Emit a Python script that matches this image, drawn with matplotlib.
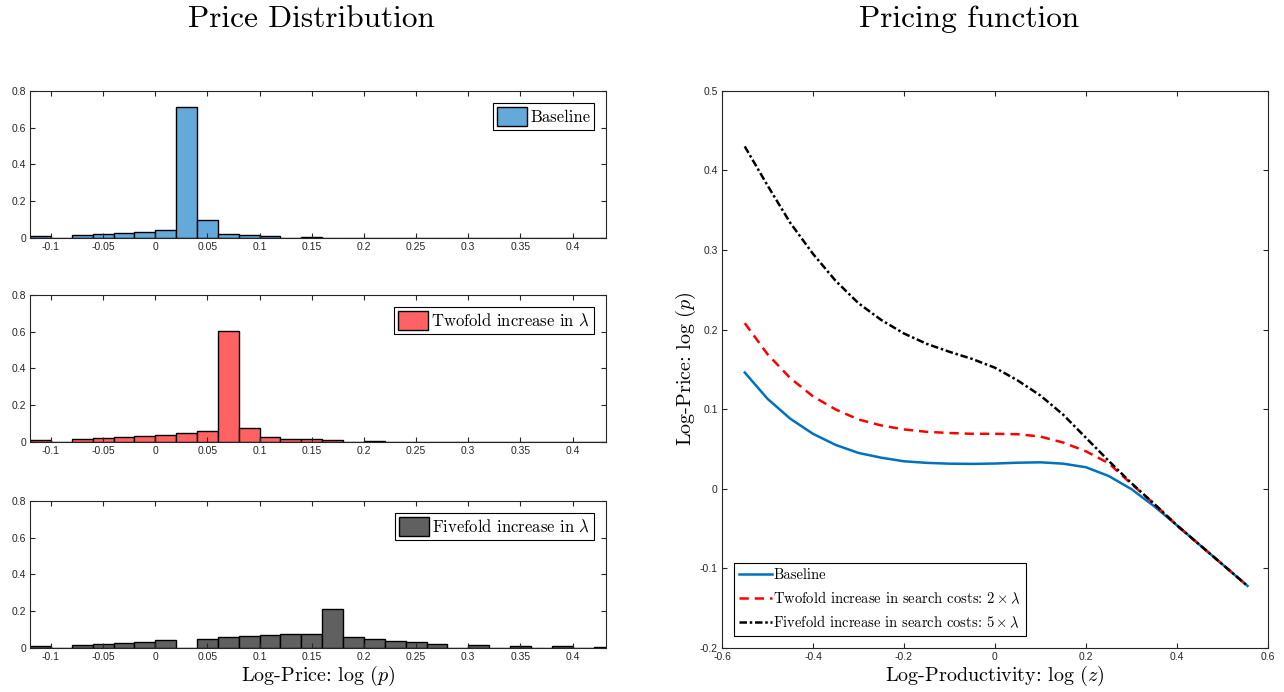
import numpy as np
import matplotlib
matplotlib.use('Agg')
import matplotlib.pyplot as plt

plt.rcParams['font.family'] = ['Liberation Sans', 'DejaVu Sans']
plt.rcParams['mathtext.fontset'] = 'cm'

# histogram bins (left edges, width 0.02)
BIN_LEFT = [-0.12, -0.10, -0.08, -0.06, -0.04, -0.02, 0.00, 0.02, 0.04, 0.06,
            0.08, 0.10, 0.12, 0.14, 0.16, 0.18, 0.20, 0.22, 0.24, 0.26,
            0.28, 0.30, 0.32, 0.34, 0.36, 0.38, 0.40, 0.42]

HIST_BASE = [0.011, 0.002, 0.016, 0.022, 0.027, 0.034, 0.042, 0.715, 0.100, 0.022,
             0.016, 0.013, 0.002, 0.007, 0, 0, 0, 0, 0, 0,
             0, 0, 0, 0, 0, 0, 0, 0]
HIST_TWO = [0.011, 0.002, 0.0145, 0.020, 0.025, 0.033, 0.040, 0.051, 0.060, 0.604,
            0.074, 0.025, 0.018, 0.0145, 0.010, 0.002, 0.006, 0, 0, 0,
            0, 0, 0, 0, 0, 0, 0, 0]
HIST_FIVE = [0.011, 0.002, 0.0145, 0.020, 0.025, 0.033, 0.042, 0.002, 0.051, 0.060,
             0.067, 0.0725, 0.076, 0.078, 0.214, 0.060, 0.051, 0.040, 0.033, 0.024,
             0.002, 0.018, 0.002, 0.013, 0.002, 0.009, 0.002, 0.005]

HIST_LABELS = ['Baseline', r'Twofold increase in $\lambda$', r'Fivefold increase in $\lambda$']
HIST_COLORS = ['#63a9d9', '#ff6262', '#606060']

# pricing function
LOG_Z = [-0.55, -0.50, -0.45, -0.40, -0.35, -0.30, -0.25, -0.20, -0.15, -0.10, -0.05, 0.00,
         0.05, 0.10, 0.15, 0.20, 0.25, 0.30, 0.35, 0.40, 0.45, 0.50, 0.555]
P_BASE = [0.146, 0.113, 0.088, 0.069, 0.055, 0.045, 0.039, 0.0345, 0.0325, 0.0315, 0.0312, 0.0317,
          0.0327, 0.0332, 0.0315, 0.027, 0.016, -0.0005, -0.022, -0.046, -0.0705, -0.095, -0.122]
P_TWO = [0.208, 0.169, 0.139, 0.116, 0.0995, 0.087, 0.0795, 0.0745, 0.0715, 0.070, 0.069, 0.069,
         0.0685, 0.0655, 0.058, 0.047, 0.032, 0.006, -0.019, -0.046, -0.0705, -0.095, -0.122]
P_FIVE = [0.430, 0.381, 0.334, 0.295, 0.261, 0.233, 0.212, 0.195, 0.182, 0.172, 0.163, 0.152,
          0.136, 0.117, 0.093, 0.064, 0.035, 0.007, -0.019, -0.046, -0.0705, -0.095, -0.122]

LINE_LABELS = ['Baseline',
               r'Twofold increase in search costs: $2 \times \lambda$',
               r'Fivefold increase in search costs: $5 \times \lambda$']

AX_GRAY = '#262626'
SERIF = 'cmr10'


def matlab_axes(ax):
    for s in ax.spines.values():
        s.set_color(AX_GRAY)
        s.set_linewidth(0.8)
    ax.tick_params(direction='in', top=True, right=True, length=3.5, width=0.8,
                   colors=AX_GRAY, labelsize=7.5, pad=3)


def fmt(v):
    s = '%g' % round(v, 4)
    return '0' if s == '-0' else s


fig = plt.figure(figsize=(12.84, 6.92), dpi=100)

hist_rows = [0.656, 0.3613, 0.0636]
hist_data = [HIST_BASE, HIST_TWO, HIST_FIVE]
for i in range(3):
    ax = fig.add_axes([0.0234, hist_rows[i], 0.4486, 0.2126])
    ax.bar(BIN_LEFT, hist_data[i], width=0.02, align='edge',
           color=HIST_COLORS[i], edgecolor='black', linewidth=1.0,
           label=HIST_LABELS[i])
    ax.set_xlim(-0.12, 0.432)
    ax.set_ylim(0, 0.8)
    xt = [-0.1, -0.05, 0, 0.05, 0.1, 0.15, 0.2, 0.25, 0.3, 0.35, 0.4]
    ax.set_xticks(xt)
    ax.set_xticklabels([fmt(v) for v in xt])
    yt = [0, 0.2, 0.4, 0.6, 0.8]
    ax.set_yticks(yt)
    ax.set_yticklabels([fmt(v) for v in yt])
    matlab_axes(ax)
    leg = ax.legend(loc='upper right', prop={'family': SERIF, 'size': 12},
                    fancybox=False, framealpha=1, edgecolor='black',
                    handlelength=1.8, handleheight=1.4, handletextpad=0.2,
                    borderpad=0.25, borderaxespad=0.7)
    leg.get_frame().set_linewidth(0.8)
    if i == 2:
        ax.set_xlabel(r'Log-Price: $\log\,(p)$', fontfamily=SERIF, fontsize=14.5,
                      labelpad=1)

ax = fig.add_axes([0.5623, 0.0636, 0.4252, 0.8054])
ax.plot(LOG_Z, P_BASE, color='#0072BD', linewidth=1.8, label=LINE_LABELS[0])
ax.plot(LOG_Z, P_TWO, color='#ff0000', linestyle=(0, (3.7, 2.4)), linewidth=1.8,
        label=LINE_LABELS[1])
ax.plot(LOG_Z, P_FIVE, color='black', linestyle=(0, (3, 1.1, 1, 1.1)), linewidth=1.8,
        label=LINE_LABELS[2])
ax.set_xlim(-0.6, 0.6)
ax.set_ylim(-0.2, 0.5)
xt = [-0.6, -0.4, -0.2, 0, 0.2, 0.4, 0.6]
ax.set_xticks(xt)
ax.set_xticklabels([fmt(v) for v in xt])
yt = [-0.2, -0.1, 0, 0.1, 0.2, 0.3, 0.4, 0.5]
ax.set_yticks(yt)
ax.set_yticklabels([fmt(v) for v in yt])
matlab_axes(ax)
ax.set_xlabel(r'Log-Productivity: $\log\,(z)$', fontfamily=SERIF, fontsize=14.5, labelpad=1)
ax.set_ylabel(r'Log-Price: $\log\,(p)$', fontfamily=SERIF, fontsize=14.5, labelpad=1)
leg = ax.legend(loc='lower left', prop={'family': SERIF, 'size': 10.5},
                fancybox=False, framealpha=1, edgecolor='black',
                handlelength=2.2, handletextpad=0.1, labelspacing=0.55,
                borderpad=0.35, borderaxespad=0.85)
leg.get_frame().set_linewidth(0.8)

fig.text(0.2425, 0.972, 'Price Distribution', fontfamily=SERIF, fontsize=22.5,
         ha='center', va='center')
fig.text(0.7547, 0.972, 'Pricing function', fontfamily=SERIF, fontsize=22.5,
         ha='center', va='center')

fig.savefig('out.png', dpi=100)
